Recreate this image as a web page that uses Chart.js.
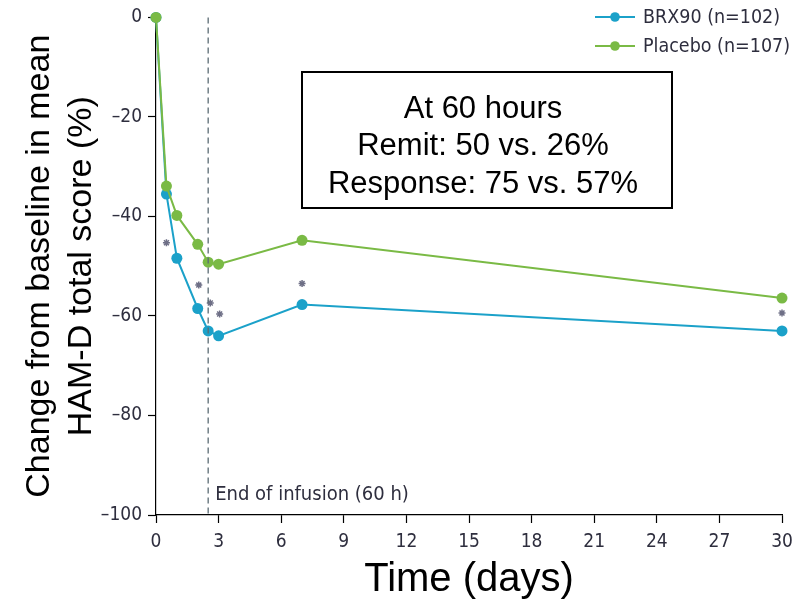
<!DOCTYPE html>
<html>
<head>
<meta charset="utf-8">
<script src="https://cdn.jsdelivr.net/npm/chart.js@4.4.1/dist/chart.umd.min.js"></script>
<style>
  html, body { margin: 0; padding: 0; background: #ffffff; }
  #wrap { width: 803px; height: 606px; }
</style>
</head>
<body>
<div id="wrap"><canvas id="c" width="803" height="606"></canvas></div>
<script>
// ---- data ----
const days = [0, 0.5, 1, 2, 2.5, 3, 7, 30];
const brx90 = [0, -35.5, -48.4, -58.5, -63.0, -64.0, -57.7, -63.0];
const placebo = [0, -33.9, -39.8, -45.6, -49.2, -49.6, -44.8, -56.4];
const starDays = [0.5, 2.05, 2.6, 3.05, 7, 30];
const starValues = [-45.3, -53.8, -57.4, -59.6, -53.5, -59.4];
const xTicks = [0, 3, 6, 9, 12, 15, 18, 21, 24, 27, 30];
const yTicks = [0, -20, -40, -60, -80, -100];
const seriesNames = ['BRX90 (n=102)', 'Placebo (n=107)'];
const boxLines = ['At 60 hours', 'Remit: 50 vs. 26%', 'Response: 75 vs. 57%'];
const infusionEnd = 2.5;
const infusionLabel = 'End of infusion (60 h)';

const BLUE = '#1ba1c9';
const GREEN = '#7aba45';
const COND = "'Liberation Sans Narrow', 'DejaVu Sans Condensed', 'Open Sans', sans-serif";
const ARIAL = "'Liberation Sans', Arial, sans-serif";
const TICKCOL = '#2e2e3e';

const toXY = (xs, ys) => xs.map((x, i) => ({ x: x, y: ys[i] }));

const overlay = {
  id: 'overlay',
  afterDatasetsDraw(chart) {
    const { ctx, chartArea, scales } = chart;
    const xs = scales.x;
    // dashed end-of-infusion line
    const xp = xs.getPixelForValue(infusionEnd);
    ctx.save();
    ctx.strokeStyle = '#5b6b73';
    ctx.lineWidth = 1.3;
    ctx.setLineDash([6, 4]);
    ctx.beginPath();
    ctx.moveTo(xp, chartArea.top);
    ctx.lineTo(xp, chartArea.bottom);
    ctx.stroke();
    ctx.setLineDash([]);
    ctx.fillStyle = TICKCOL;
    ctx.font = "20px " + COND;
    ctx.textAlign = 'left';
    ctx.textBaseline = 'alphabetic';
    ctx.fillText(infusionLabel, xp + 7, 500);

    // annotation box
    ctx.strokeStyle = '#000';
    ctx.lineWidth = 2;
    ctx.strokeRect(302, 72, 370, 136);
    ctx.fillStyle = '#000';
    ctx.font = "31px " + ARIAL;
    ctx.textAlign = 'center';
    ctx.textBaseline = 'middle';
    boxLines.forEach((t, i) => ctx.fillText(t, 483, 109 + i * 37.5));

    // legend
    const items = [[seriesNames[0], BLUE, 17], [seriesNames[1], GREEN, 46]];
    ctx.font = "19.5px " + COND;
    ctx.textAlign = 'left';
    ctx.textBaseline = 'middle';
    items.forEach(([label, col, y]) => {
      ctx.strokeStyle = col;
      ctx.lineWidth = 2;
      ctx.beginPath();
      ctx.moveTo(595, y);
      ctx.lineTo(635, y);
      ctx.stroke();
      ctx.fillStyle = col;
      ctx.beginPath();
      ctx.arc(615, y, 4.8, 0, Math.PI * 2);
      ctx.fill();
      ctx.fillStyle = TICKCOL;
      ctx.fillText(label, 643, y + 1);
    });
    ctx.restore();
  }
};

new Chart(document.getElementById('c'), {
  type: 'line',
  data: {
    datasets: [
      {
        label: seriesNames[1],
        data: toXY(days, placebo),
        borderColor: GREEN,
        backgroundColor: GREEN,
        borderWidth: 2,
        pointRadius: 5.5,
        pointBorderWidth: 0,
        tension: 0
      },
      {
        label: seriesNames[0],
        data: toXY(days, brx90),
        borderColor: BLUE,
        backgroundColor: BLUE,
        borderWidth: 2,
        pointRadius: 5.5,
        pointBorderWidth: 0,
        tension: 0
      },
      {
        label: 'significance',
        data: toXY(starDays, starValues),
        showLine: false,
        pointStyle: 'star',
        pointRadius: 3.5,
        borderColor: '#6e6f86',
        backgroundColor: '#6e6f86',
        pointBorderWidth: 1.5
      }
    ]
  },
  options: {
    responsive: false,
    animation: false,
    clip: false,
    layout: { padding: { top: 17, right: 21, left: 0, bottom: 0 } },
    plugins: { legend: { display: false }, tooltip: { enabled: false } },
    scales: {
      x: {
        type: 'linear',
        min: 0, max: 30,
        afterFit(s) { s.height = 91; },
        afterBuildTicks(s) { s.ticks = xTicks.map(v => ({ value: v })); },
        border: { display: true, color: '#000', width: 1.2 },
        grid: { drawOnChartArea: false, drawTicks: true, tickLength: 8, color: '#000', tickWidth: 1.2 },
        ticks: { color: TICKCOL, font: { family: COND, size: 19 }, padding: 8, maxRotation: 0, autoSkip: false },
        title: { display: true, text: 'Time (days)', color: '#000', font: { family: ARIAL, size: 40, lineHeight: 1 }, padding: { top: 0, bottom: 6 } }
      },
      y: {
        type: 'linear',
        min: -100, max: 0,
        afterFit(s) { s.width = 156; },
        afterBuildTicks(s) { s.ticks = yTicks.map(v => ({ value: v })); },
        border: { display: true, color: '#000', width: 1.2 },
        grid: { drawOnChartArea: false, drawTicks: true, tickLength: 8, color: '#000', tickWidth: 1.2 },
        ticks: { color: TICKCOL, font: { family: COND, size: 19 }, padding: 6, callback: v => (v < 0 ? '\u2013' + Math.abs(v) : String(v)) },
        title: { display: true, text: ['Change from baseline in mean', 'HAM-D total score (%)'], color: '#000', font: { family: ARIAL, size: 34, lineHeight: 1.235 }, padding: { top: 19, bottom: 0 } }
      }
    }
  },
  plugins: [overlay]
});
</script>
</body>
</html>
